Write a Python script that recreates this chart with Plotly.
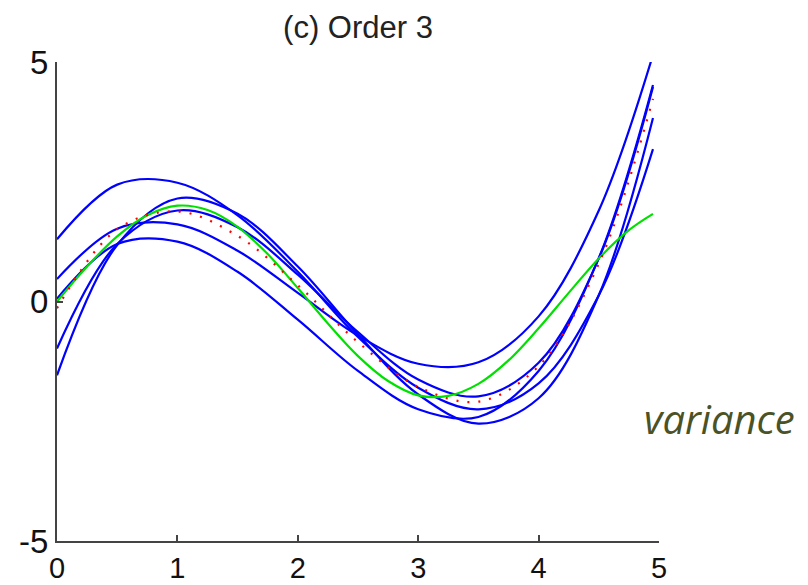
import plotly.graph_objects as go

# sample positions
x_fit = [0, 0.5, 1.0, 1.5, 2.0, 2.5, 3.0, 3.5, 4.0, 4.5, 4.95]

# five order-3 fits (blue)
fit_1 = [1.30, 2.44, 2.48, 1.80, 0.62, -0.74, -1.80, -2.25, -1.71, 0.13, 3.18]
fit_2 = [0.47, 1.52, 1.61, 1.06, 0.18, -0.71, -1.30, -1.27, -0.31, 1.90, 5.15]
fit_3 = [0.06, 1.20, 1.25, 0.62, -0.38, -1.45, -2.25, -2.41, -1.45, 0.91, 4.52]
fit_4 = [-1.54, 1.18, 2.15, 1.83, 0.73, -0.69, -1.94, -2.55, -2.02, 0.13, 3.83]
fit_5 = [-0.98, 1.20, 1.90, 1.55, 0.56, -0.64, -1.63, -1.98, -1.28, 0.90, 4.48]

# average fit (red dotted)
fit_mean = [-0.14, 1.51, 1.88, 1.37, 0.34, -0.85, -1.78, -2.09, -1.35, 0.79, 4.23]

# true function (green)
x_true = [0, 0.25, 0.5, 0.75, 1.0, 1.25, 1.5, 1.75, 2.0, 2.25, 2.5, 2.75, 3.0,
          3.25, 3.5, 3.75, 4.0, 4.25, 4.5, 4.75, 4.95]
y_true = [0.0, 0.73, 1.36, 1.80, 2.00, 1.91, 1.56, 0.99, 0.28, -0.46, -1.14, -1.66,
          -1.96, -1.97, -1.72, -1.23, -0.56, 0.18, 0.90, 1.49, 1.83]

x_ticks = [0, 1, 2, 3, 4, 5]
y_ticks = [-5, 0, 5]
title_text = "(c) Order 3"
side_text = "variance"

fig = go.Figure()
for fit in [fit_1, fit_2, fit_3, fit_4, fit_5]:
    fig.add_trace(go.Scatter(x=x_fit, y=fit, mode="lines",
                             line=dict(color="#0000FF", width=2.2, shape="spline"),
                             showlegend=False, hoverinfo="skip"))
fig.add_trace(go.Scatter(x=x_true, y=y_true, mode="lines",
                         line=dict(color="#00E000", width=2.2, shape="spline"),
                         showlegend=False, hoverinfo="skip"))
fig.add_trace(go.Scatter(x=x_fit, y=fit_mean, mode="lines",
                         line=dict(color="#FF0000", width=2.2, shape="spline", dash="2px,9px"),
                         showlegend=False, hoverinfo="skip"))

# the page adds an 8 px body margin, so the figure is 800 x 577
W, H = 800, 577
PL, PR, PT, PB = 49, 651, 54, 533   # plot area in figure pixels
x_font = dict(family="Liberation Sans, Arial, sans-serif", size=29, color="#111111")
y_font = dict(family="Liberation Sans, Arial, sans-serif", size=33, color="#111111")
fig.update_layout(
    width=W, height=H,
    margin=dict(l=PL, r=W - PR, t=PT, b=H - PB, autoexpand=False),
    paper_bgcolor="white", plot_bgcolor="white",
    title=dict(text=title_text, x=(PL + PR) / 2 / W, xanchor="center",
               y=1 - 19 / H, yanchor="middle", automargin=False,
               font=dict(family="Liberation Sans, Arial, sans-serif", size=31, color="#222222")),
    xaxis=dict(range=[0, 5], tickvals=x_ticks, ticktext=[str(v) for v in x_ticks],
               showgrid=False, zeroline=False, showline=True, linecolor="#444444", linewidth=2,
               ticks="inside", ticklen=6, tickwidth=1.5, tickcolor="#444444",
               tickfont=x_font, ticklabelstandoff=0, automargin=False),
    yaxis=dict(range=[-5, 5], tickvals=y_ticks, ticktext=[str(v) for v in y_ticks],
               showgrid=False, zeroline=False, showline=True, linecolor="#444444", linewidth=2,
               ticks="inside", ticklen=6, tickwidth=1.5, tickcolor="#444444",
               tickfont=y_font, automargin=False),
    annotations=[dict(text=side_text, xref="paper", yref="paper",
                      x=(634 - PL) / (PR - PL), y=(PB - 410) / (PB - PT), xanchor="left", yanchor="middle",
                      showarrow=False,
                      font=dict(family="Open Sans, Lato, sans-serif", size=40, color="#4A5226", style="italic"))],
)
fig.write_html("out.html")
